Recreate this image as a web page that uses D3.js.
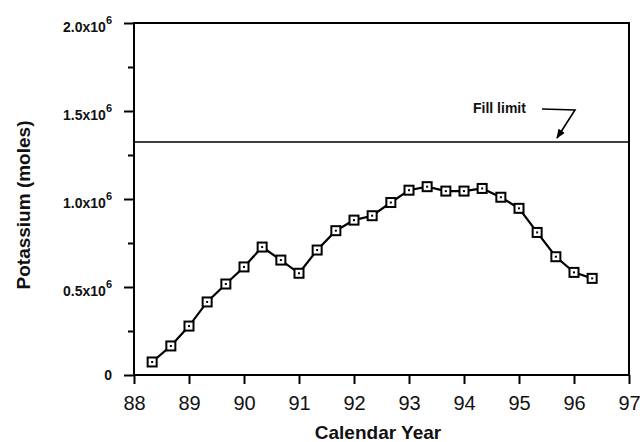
<!DOCTYPE html>
<html>
<head>
<meta charset="utf-8">
<script src="https://cdn.jsdelivr.net/npm/d3@7"></script>
<style>
  body { margin: 0; background: #fff; }
  svg { display: block; font-family: "Liberation Sans", Arial, sans-serif; }
</style>
</head>
<body>
<div id="chart"></div>
<script>
// data
var years = [88.33, 88.67, 89.0, 89.33, 89.67, 90.0, 90.33, 90.67, 91.0, 91.33,
             91.67, 92.0, 92.33, 92.67, 93.0, 93.33, 93.67, 94.0, 94.33, 94.67,
             95.0, 95.33, 95.67, 96.0, 96.33];
var potassium = [0.074e6, 0.165e6, 0.278e6, 0.415e6, 0.517e6, 0.614e6, 0.727e6, 0.653e6, 0.578e6, 0.71e6,
                 0.82e6, 0.88e6, 0.905e6, 0.98e6, 1.05e6, 1.07e6, 1.045e6, 1.045e6, 1.06e6, 1.01e6,
                 0.947e6, 0.81e6, 0.672e6, 0.583e6, 0.549e6];
var fillLimit = 1.324e6;
var xTicks = [88, 89, 90, 91, 92, 93, 94, 95, 96, 97];
var yTicks = [0, 0.5e6, 1.0e6, 1.5e6, 2.0e6];
var yTickLabels = ['0', '0.5x10', '1.0x10', '1.5x10', '2.0x10'];
var yMinor = [0.25e6, 0.75e6, 1.25e6, 1.75e6];

var width = 640, height = 442,
    margin = { top: 23, right: 11, bottom: 67, left: 134 };

var svg = d3.select('#chart')
    .append('svg')
    .attr('width', width)
    .attr('height', height);

var x = d3.scaleLinear()
    .domain([88, 97])
    .range([margin.left, width - margin.right]);
var y = d3.scaleLinear()
    .domain([0, 2.0e6])
    .range([height - margin.bottom, margin.top]);

// x axis
var xAxis = d3.axisBottom(x)
    .tickValues(xTicks)
    .tickSize(9)
    .tickSizeOuter(0)
    .tickPadding(12)
    .tickFormat(d3.format('d'));

svg.append('g')
    .attr('class', 'x axis')
    .attr('transform', `translate(0,${y(0)})`)
    .call(xAxis)
    .call(g => g.select('.domain').remove())
    .call(g => g.selectAll('line').attr('stroke', '#000').attr('stroke-width', 2))
    .call(g => g.selectAll('text')
        .attr('font-size', 20)
        .attr('fill', '#111')
        .attr('font-family', '"Liberation Sans", Arial, sans-serif'));

// y axis, major
var yAxis = d3.axisLeft(y)
    .tickValues(yTicks)
    .tickSize(10)
    .tickSizeOuter(0)
    .tickPadding(12)
    .tickFormat('');

var yg = svg.append('g')
    .attr('class', 'y axis')
    .attr('transform', `translate(${x(88)},0)`)
    .call(yAxis)
    .call(g => g.select('.domain').remove())
    .call(g => g.selectAll('line').attr('stroke', '#000').attr('stroke-width', 2));

yg.selectAll('.tick text').each(function(d, i) {
    var t = d3.select(this)
        .attr('font-size', 14)
        .attr('font-weight', 'bold')
        .attr('fill', '#111')
        .attr('font-family', '"Liberation Sans", Arial, sans-serif')
        .attr('dy', i === 0 ? '0.3em' : '0.6em');
    t.append('tspan').text(yTickLabels[i]);
    if (i > 0) {
        t.append('tspan')
            .attr('font-size', 11)
            .attr('dy', '-0.75em')
            .text('6');
    }
});

// y axis, minor
svg.append('g')
    .attr('class', 'y minor')
    .attr('transform', `translate(${x(88)},0)`)
    .call(d3.axisLeft(y).tickValues(yMinor).tickSize(6).tickSizeOuter(0).tickFormat(''))
    .call(g => g.select('.domain').remove())
    .call(g => g.selectAll('line').attr('stroke', '#000').attr('stroke-width', 2));

// frame
svg.append('rect')
    .attr('x', x(88))
    .attr('y', y(2.0e6))
    .attr('width', x(97) - x(88))
    .attr('height', y(0) - y(2.0e6))
    .attr('fill', 'none')
    .attr('stroke', '#000')
    .attr('stroke-width', 2);

// fill limit
svg.append('line')
    .attr('x1', x(88))
    .attr('x2', x(97))
    .attr('y1', y(fillLimit))
    .attr('y2', y(fillLimit))
    .attr('stroke', '#000')
    .attr('stroke-width', 1.6);

svg.append('text')
    .attr('x', 473)
    .attr('y', 113)
    .attr('font-size', 14)
    .attr('font-weight', 'bold')
    .attr('fill', '#111')
    .text('Fill limit');

svg.append('defs').append('marker')
    .attr('id', 'arrow')
    .attr('viewBox', '0 0 10 10')
    .attr('refX', 9)
    .attr('refY', 5)
    .attr('markerWidth', 6)
    .attr('markerHeight', 6)
    .attr('orient', 'auto')
    .append('path')
    .attr('d', 'M0,1L10,5L0,9Z')
    .attr('fill', '#000');

svg.append('path')
    .attr('d', `M542,109L575,110L557,${y(fillLimit) - 4}`)
    .attr('fill', 'none')
    .attr('stroke', '#000')
    .attr('stroke-width', 1.6)
    .attr('marker-end', 'url(#arrow)');

// series line
var pts = years.map((d, i) => [d, potassium[i]]);
svg.append('path')
    .datum(pts)
    .attr('fill', 'none')
    .attr('stroke', '#000')
    .attr('stroke-width', 2.2)
    .attr('d', d3.line().x(d => x(d[0])).y(d => y(d[1])));

var markers = svg.selectAll('.marker')
    .data(pts)
    .enter()
    .append('g')
    .attr('class', 'marker')
    .attr('transform', d => `translate(${x(d[0])},${y(d[1])})`);

markers.append('rect')
    .attr('x', -4.5).attr('y', -4.5)
    .attr('width', 9).attr('height', 9)
    .attr('fill', '#fff')
    .attr('stroke', '#000')
    .attr('stroke-width', 2);

markers.append('rect')
    .attr('x', -1).attr('y', -1)
    .attr('width', 2).attr('height', 2)
    .attr('fill', '#000');

// axis titles
svg.append('text')
    .attr('x', 378)
    .attr('y', 439)
    .attr('text-anchor', 'middle')
    .attr('font-size', 19)
    .attr('font-weight', 'bold')
    .attr('fill', '#111')
    .text('Calendar Year');

svg.append('text')
    .attr('transform', 'translate(30,205) rotate(-90)')
    .attr('text-anchor', 'middle')
    .attr('font-size', 19)
    .attr('font-weight', 'bold')
    .attr('fill', '#111')
    .text('Potassium (moles)');
</script>
</body>
</html>
